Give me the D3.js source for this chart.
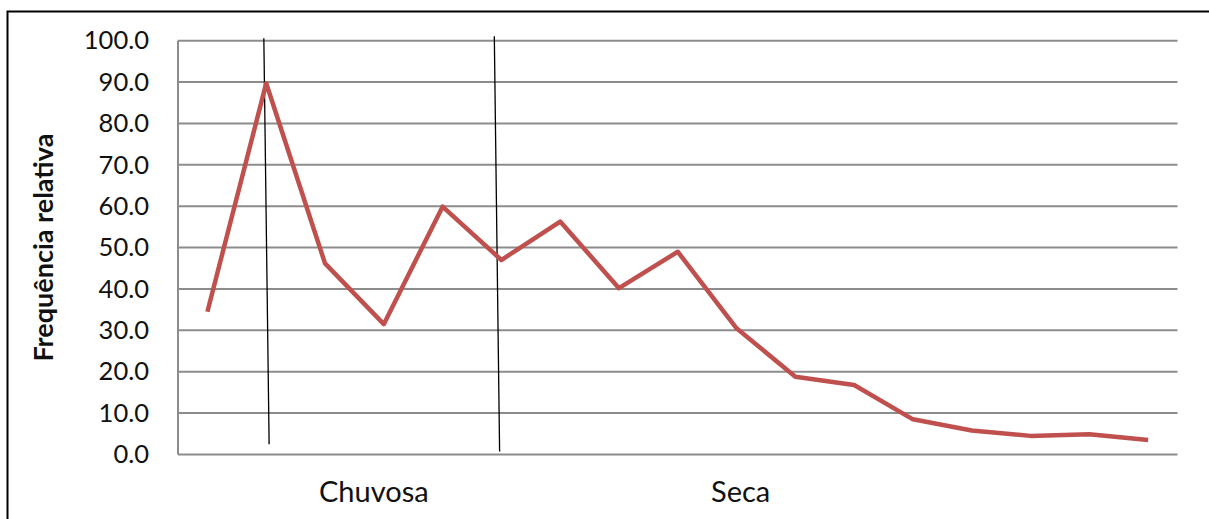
<!DOCTYPE html>
<html>
<head>
<meta charset="utf-8">
<script src="https://cdn.jsdelivr.net/npm/d3@7/dist/d3.min.js"></script>
<style>
  html, body { margin: 0; padding: 0; background: #fff; }
  svg { display: block; }
  text { font-family: Lato, "Open Sans", sans-serif; fill: #111; }
</style>
</head>
<body>
<svg id="chart" width="1209" height="519"></svg>
<script>
// ---- data ----
const categories = d3.range(1, 18);
const values = [34.5, 89.7, 46.2, 31.5, 59.9, 47.0, 56.3, 40.2, 49.0, 30.5, 18.8, 16.8, 8.5, 5.8, 4.5, 4.9, 3.5];
const yTicks = [0, 10, 20, 30, 40, 50, 60, 70, 80, 90, 100];
const yTitle = "Frequência relativa";
// season separators: [x start (category index), y top, x end, y bottom]
const separators = [
  { x0: 0.96, y0: 100.6, x1: 1.05, y1: 2.5 },
  { x0: 4.88, y0: 101.1, x1: 4.97, y1: 0.7 }
];
const seasonLabels = ["Chuvosa", "Seca"];
const seasonPos = [2.83, 9.07];

// ---- layout ----
const svg = d3.select("#chart");
const mLeft = 178, mRight = 1177.5, mTop = 40.7, mBottom = 454.5;

const x = d3.scaleLinear().domain([-0.5, categories.length - 0.5]).range([mLeft, mRight]);
const y = d3.scaleLinear().domain([0, 100]).range([mBottom, mTop]);

// outer border
svg.append("rect")
  .attr("x", 7.5).attr("y", 11.5).attr("width", 1230).attr("height", 540)
  .attr("fill", "none").attr("stroke", "#000").attr("stroke-width", 2);

// gridlines
svg.append("g").selectAll("line").data(yTicks).join("line")
  .attr("x1", mLeft).attr("x2", mRight)
  .attr("y1", d => y(d)).attr("y2", d => y(d))
  .attr("stroke", "#8c8c8c").attr("stroke-width", 2);

// left axis line
svg.append("line")
  .attr("x1", mLeft).attr("x2", mLeft).attr("y1", y(100)).attr("y2", y(0))
  .attr("stroke", "#8c8c8c").attr("stroke-width", 2);

// y axis labels
const yAxis = d3.axisLeft(y).tickValues(yTicks).tickFormat(d3.format(".1f")).tickSize(0).tickPadding(29);
const gy = svg.append("g").attr("transform", `translate(${mLeft},0)`).call(yAxis);
gy.select(".domain").remove();
gy.selectAll("text").style("font-size", "25.5px").style("font-family", "Lato, sans-serif").attr("fill", "#111");

// y title
svg.append("text")
  .attr("transform", `translate(53,${(mTop + mBottom) / 2}) rotate(-90)`)
  .attr("text-anchor", "middle")
  .style("font-size", "27px").style("font-weight", "bold")
  .text(yTitle);

// separators
svg.append("g").selectAll("line").data(separators).join("line")
  .attr("x1", d => x(d.x0)).attr("y1", d => y(d.y0))
  .attr("x2", d => x(d.x1)).attr("y2", d => y(d.y1))
  .attr("stroke", "#000").attr("stroke-width", 1.3);

// data line
const line = d3.line().x((d, i) => x(i)).y(d => y(d));
svg.append("path").datum(values)
  .attr("d", line)
  .attr("fill", "none").attr("stroke", "#C0504D").attr("stroke-width", 4.5)
  .attr("stroke-linejoin", "round");

// season labels
svg.append("g").selectAll("text").data(seasonLabels).join("text")
  .attr("x", (d, i) => x(seasonPos[i]))
  .attr("y", 502)
  .attr("text-anchor", "middle")
  .style("font-size", "29px")
  .text(d => d);
</script>
</body>
</html>
